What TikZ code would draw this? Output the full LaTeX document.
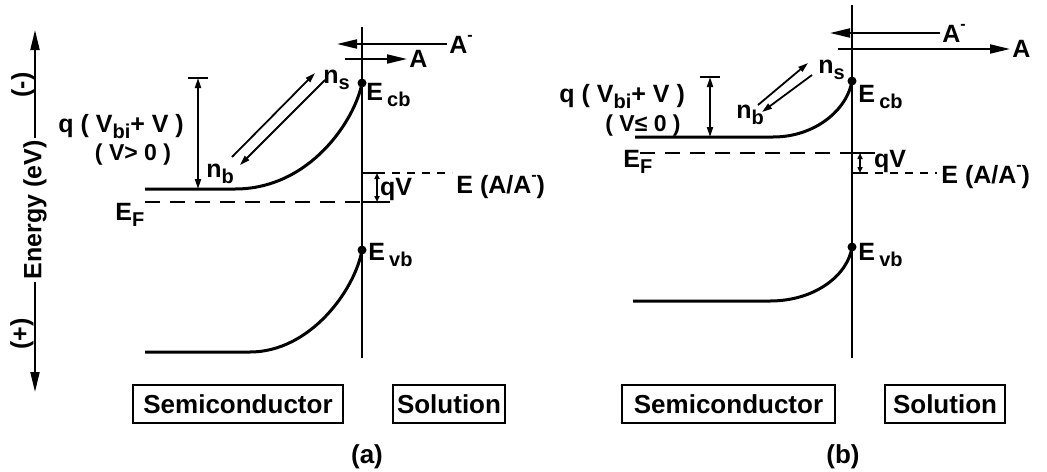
\documentclass[tikz,border=0pt]{standalone}
\usepackage{fontspec}
\setmainfont{Liberation Sans}
\usetikzlibrary{arrows.meta}
\newcommand\dn[1]{\raisebox{-3pt}{\fontsize{10}{12}\selectfont #1}}
\newcommand\chg{\raisebox{6.5pt}{\fontsize{8}{9}\selectfont -}}

\begin{document}
\begin{tikzpicture}[x=0.5pt,y=-0.5pt,
  every node/.style={font=\bfseries\fontsize{12.5}{15}\selectfont,inner sep=1pt},
  band/.style={line width=1.5pt},
  wall/.style={line width=1.2pt},
  fermi/.style={line width=1pt,dash pattern=on 7.5pt off 5pt},
  redox/.style={line width=1pt,dash pattern=on 4pt off 3.5pt},
  flux/.style={-{Triangle[length=10pt,width=4.5pt]},line width=1pt},
  hop/.style={-{Triangle[length=5pt,width=3pt]},line width=0.9pt},
  span/.style={{Triangle[length=5pt,width=3pt]}-{Triangle[length=5pt,width=3pt]},line width=0.9pt},
  qvspan/.style={{Triangle[length=3pt,width=2.5pt]}-{Triangle[length=3pt,width=2.5pt]},line width=0.8pt},
  region/.style={draw,line width=1pt,minimum height=19pt,font=\bfseries\fontsize{13}{15}\selectfont},
  dot/.style={circle,fill,inner sep=0pt,minimum size=4.5pt}
]
\useasboundingbox (0,0) rectangle (1047,471);

% energy axis
\node[rotate=90] (energy) at (35,210) {Energy (eV)};
\node[rotate=90] (neg) at (23,85) {(-)};
\node[rotate=90] (pos) at (22,334) {(+)};
\coordinate (etop) at (35,30);
\coordinate (ebot) at (35,392);
\draw[flux] (energy.east) -- (etop);
\draw[flux] (energy.west) -- (ebot);

% (a) forward bias
\coordinate (wallAt) at (362,27);
\coordinate (wallAb) at (362,358);
\draw[wall] (wallAt) -- (wallAb);
\node[dot] (cbA) at (362,83) {};
\node[dot] (vbA) at (362,250) {};
\coordinate (cbA0) at (145,189);
\coordinate (vbA0) at (145,352);
\draw[band] (cbA0) -- (235,189) .. controls (310,189) and (355,120) .. (cbA.center);
\draw[band] (vbA0) -- (250,352) .. controls (310,352) and (355,290) .. (vbA.center);
\node[anchor=base west] (ecbA) at (364,100) {E\,\dn{cb}};
\node[anchor=base west] (evbA) at (366,260) {E\,\dn{vb}};

\coordinate (efA0) at (145,202);
\coordinate (efA1) at (390,202);
\draw[fermi] (efA0) -- (wallAb |- efA0);
\draw[line width=1pt] (wallAb |- efA0) -- (efA1);
\node[anchor=base west] (efA) at (113,220) {E\dn{F}};
\coordinate (redA) at (362,173);
\coordinate (qvAt) at (377,173);
\coordinate (qvAb) at (377,202);
\coordinate (redA1) at (452,173);
\draw[line width=1pt] (redA) -- (qvAt);
\draw[redox] (qvAt) -- (redA1);
\draw[qvspan] (qvAt) -- (qvAb);
\node[anchor=base] (qvA) at (396,195) {qV};
\node[anchor=base west] (eredA) at (454,193) {E (A/A\chg)};

\node[anchor=west] (aminA) at (447,44) {A\chg};
\coordinate (ainA) at (337,44);
\draw[flux] (aminA) -- (ainA);
\node[anchor=west] (aA) at (407,59) {A};
\coordinate (aoutA) at (345,59);
\draw[flux] (aoutA) -- (aA);

\node[anchor=base west] (nsA) at (321,83) {n\dn{s}};
\node[anchor=base west] (nbA) at (204,177) {n\dn{b}};
\coordinate (upA0) at (232,157);
\coordinate (upA1) at (315,73);
\coordinate (dnA0) at (325,80);
\coordinate (dnA1) at (240,165);
\draw[hop] (upA0) -- (upA1);
\draw[hop] (dnA0) -- (dnA1);

\coordinate (qtopA) at (198,78);
\coordinate (qbotA) at (198,189);
\draw[line width=1pt] (qtopA) +(-10,0) -- +(10,0);
\draw[span] (qtopA) -- (qbotA);
\node[anchor=base west] (barA) at (56,132) {q ( V\dn{bi}+ V )};
\node[font=\bfseries\fontsize{11.5}{14}\selectfont] (signA) at (133,155) {( V> 0 )};

\node[region,minimum width=105pt] (semiA) at (238,404) {Semiconductor};
\node[region,minimum width=56pt] (solA) at (449,404) {Solution};
\node[font=\bfseries\fontsize{13}{15}\selectfont] (capA) at (367,457) {(a)};

% (b) reverse bias
\coordinate (wallBt) at (852,5);
\coordinate (wallBb) at (852,358);
\draw[wall] (wallBt) -- (wallBb);
\node[dot] (cbB) at (852,81) {};
\node[dot] (vbB) at (852,247) {};
\coordinate (cbB0) at (635,137);
\coordinate (vbB0) at (633,301);
\draw[band] (cbB0) -- (773,137) .. controls (815,137) and (847,110) .. (cbB.center);
\draw[band] (vbB0) -- (770,301) .. controls (815,301) and (848,275) .. (vbB.center);
\node[anchor=base west] (ecbB) at (856,102) {E\,\dn{cb}};
\node[anchor=base west] (evbB) at (856,260) {E\,\dn{vb}};

\coordinate (efB0) at (640,153);
\coordinate (efB1) at (875,153);
\draw[fermi] (efB0) -- (wallBb |- efB0);
\draw[line width=1pt] (wallBb |- efB0) -- (efB1);
\node[anchor=base west] (efB) at (621,167) {E\dn{F}};
\coordinate (redB) at (852,173);
\coordinate (qvBt) at (860,153);
\coordinate (qvBb) at (860,173);
\coordinate (redB1) at (937,173);
\draw[line width=1pt] (redB) -- (qvBb);
\draw[redox] (qvBb) -- (redB1);
\draw[qvspan] (qvBt) -- (qvBb);
\node[anchor=base] (qvB) at (890,167) {qV};
\node[anchor=base west] (eredB) at (939,183) {E (A/A\chg)};

\node[anchor=west] (aminB) at (940,33) {A\chg};
\coordinate (ainB) at (830,33);
\draw[flux] (aminB) -- (ainB);
\node[anchor=west] (aB) at (1010,49) {A};
\coordinate (aoutB) at (838,49);
\draw[flux] (aoutB) -- (aB);

\node[anchor=base west] (nsB) at (816,73) {n\dn{s}};
\node[anchor=base west] (nbB) at (734,118) {n\dn{b}};
\coordinate (upB0) at (758,105);
\coordinate (upB1) at (808,63);
\coordinate (dnB0) at (812,75);
\coordinate (dnB1) at (762,112);
\draw[hop] (upB0) -- (upB1);
\draw[hop] (dnB0) -- (dnB1);

\coordinate (qtopB) at (710,77);
\coordinate (qbotB) at (710,137);
\draw[line width=1pt] (qtopB) +(-10,0) -- +(10,0);
\draw[span] (qtopB) -- (qbotB);
\node[anchor=base west] (barB) at (557,102) {q ( V\dn{bi}+ V )};
\node[font=\bfseries\fontsize{11.5}{14}\selectfont] (signB) at (643,126) {( V≤ 0 )};

\node[region,minimum width=106.5pt] (semiB) at (728.5,404) {Semiconductor};
\node[region,minimum width=60pt] (solB) at (945,404) {Solution};
\node[font=\bfseries\fontsize{13}{15}\selectfont] (capB) at (843,457) {(b)};
\end{tikzpicture}
\end{document}
